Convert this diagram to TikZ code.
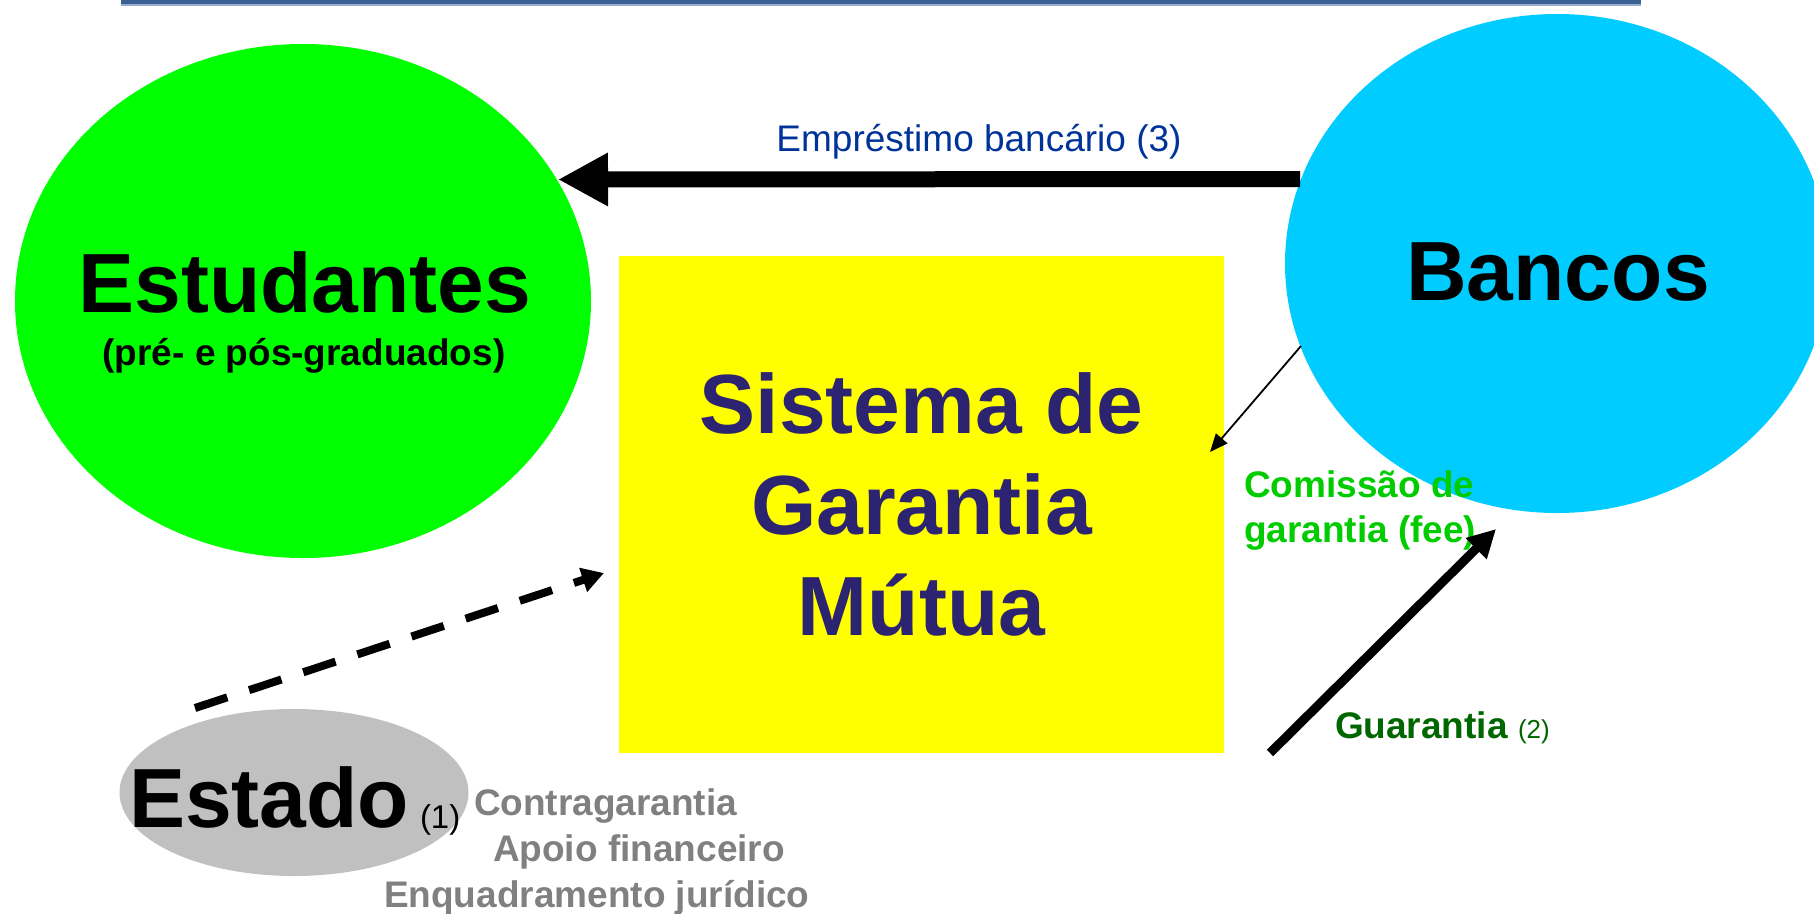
\documentclass[tikz,border=0pt]{standalone}
\usepackage{fontspec}
\setmainfont{Liberation Sans}
\usetikzlibrary{shapes.geometric,arrows.meta}
\definecolor{cgreen}{RGB}{0,255,0}
\definecolor{cblue}{RGB}{0,204,255}
\definecolor{cyellow}{RGB}{255,255,0}
\definecolor{cgray}{RGB}{192,192,192}
\definecolor{navytext}{RGB}{44,36,112}
\definecolor{loanblue}{RGB}{0,51,153}
\definecolor{feegreen}{RGB}{0,204,0}
\definecolor{guargreen}{RGB}{0,102,0}
\definecolor{graytext}{RGB}{128,128,128}
\definecolor{topline}{RGB}{60,96,146}
\definecolor{toplight}{RGB}{150,172,205}
\begin{document}
\begin{tikzpicture}[x=1pt,y=-1pt,
  every node/.style={inner sep=0pt, outer sep=0pt},
  blob/.style={ellipse, inner sep=0pt, outer sep=0pt},
  hugetxt/.style={font=\fontsize{84}{101}\selectfont\bfseries},
  smalltxt/.style={font=\fontsize{37}{45}\selectfont\bfseries},
  loantxt/.style={font=\fontsize{37}{45}\selectfont, text=loanblue},
  bigarrow/.style={line width=16pt, -{Triangle[length=50pt,width=50pt]}},
  thinarrow/.style={line width=1.8pt, -{Triangle[length=18pt,width=15pt]}},
  medarrow/.style={line width=9pt, -{Triangle[length=28pt,width=28pt]}},
  dasharrow/.style={line width=8pt, dash pattern=on 34pt off 23pt, -{Triangle[length=22pt,width=24pt]}}
]
\useasboundingbox (0,0) rectangle (1814,913);
\clip (0,0) rectangle (1814,913);

% top rule
\fill[topline] (121,0) rectangle (1641,4);
\fill[toplight] (121,4) rectangle (1641,5.5);

% shapes
\node[blob, fill=cgreen, minimum width=576pt, minimum height=514pt] (stud) at (303,301) {};
\node[blob, fill=cblue, minimum width=544pt, minimum height=499pt] (banc) at (1557,263.5) {};
\node[rectangle, fill=cyellow, minimum width=605pt, minimum height=497pt,
      align=center, hugetxt, text=navytext] (sgm) at (921.5,504.5)
      {Sistema de\\Garantia\\Mútua};
\node[blob, fill=cgray, minimum width=349pt, minimum height=167pt] (estado) at (294,792.5) {};

% texts
\node[hugetxt, anchor=base] (studtxt) at (305,312) {Estudantes};
\node[smalltxt, anchor=base] (studsub) at (304,365) {(pré- e pós-graduados)};
\node[hugetxt, anchor=base] (banctxt) at (1558,300) {Bancos};
\node[hugetxt, anchor=base west] (esttxt) at (129,827) {Estado};
\node[font=\fontsize{33}{38}\selectfont, anchor=base west] (estnum) at (420,828) {(1)};
\node[smalltxt, text=graytext, anchor=base west] (g1) at (474,815) {Contragarantia};
\node[smalltxt, text=graytext, anchor=base west] (g2) at (493,861) {Apoio financeiro};
\node[smalltxt, text=graytext, anchor=base west] (g3) at (384,907) {Enquadramento jurídico};
\node[loantxt, anchor=base] (loanlbl) at (979,151) {Empréstimo bancário (3)};
\node[smalltxt, text=feegreen, anchor=base west] (fee1) at (1244,497) {Comissão de};
\node[smalltxt, text=feegreen, anchor=base west] (fee2) at (1244,542) {garantia (fee)};
\node[smalltxt, text=guargreen, anchor=base west] (guarlbl) at (1335,738)
      {Guarantia {\mdseries\fontsize{26}{30}\selectfont (2)}};

% connector ends, tied to the shapes
\coordinate (loanstart) at ([shift={(-257,-84.5)}]banc.center);
\coordinate (loanend) at ([shift={(255,-121.5)}]stud.center);
\coordinate (feestart) at ([shift={(-256,82.5)}]banc.center);
\coordinate (feetip) at (1210,452);
\coordinate (guarstart) at (1270,753);
\coordinate (guartip) at (1496,529);
\coordinate (dashstart) at (195,708);
\coordinate (dashtip) at (604,573);

% connectors
\draw[bigarrow] (loanstart) -- (loanend);
\draw[thinarrow] (feestart) -- (feetip);
\draw[medarrow] (guarstart) -- (guartip);
\draw[dasharrow] (dashstart) -- (dashtip);
\end{tikzpicture}
\end{document}
